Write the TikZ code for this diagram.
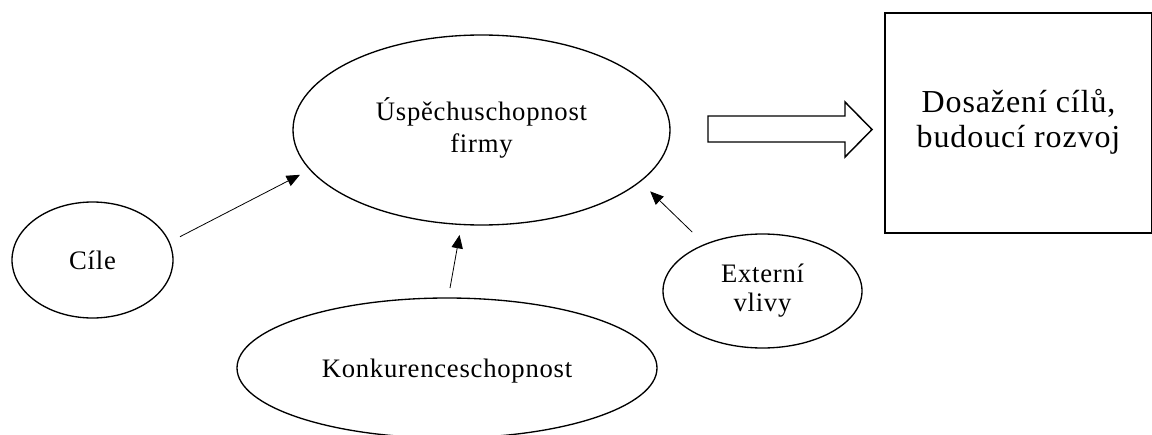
\documentclass[tikz,border=0pt]{standalone}
\usepackage{fontspec}
\setmainfont{Liberation Serif}[LetterSpace=2.8]
\usetikzlibrary{shapes.geometric,arrows.meta}
\tikzset{
  oval/.style={ellipse, draw, line width=1pt, inner sep=0pt, outer sep=0pt, align=center},
  smalltext/.style={font=\fontsize{20}{24}\selectfont},
  bigtext/.style={font=\fontsize{24}{27}\selectfont},
  box/.style={rectangle, draw, line width=1pt, inner sep=0pt, outer sep=0pt, align=center},
  arr/.style={line width=0.6pt, -{Triangle[length=10pt,width=8.5pt]}},
  blockarrow/.style={draw, line width=1.1pt, fill=white, line join=miter}
}
\begin{document}
\begin{tikzpicture}[x=0.75pt,y=-0.75pt]
\useasboundingbox (0,0) rectangle (1152,435);
\node[oval, smalltext, minimum width=282.75pt, minimum height=142.5pt] (top) at (481.5,130) {\raisebox{-1.5pt}{\begin{tabular}{@{}c@{}}Úspěchuschopnost\\firmy\end{tabular}}};
\node[oval, smalltext, minimum width=120.75pt, minimum height=87pt] (cile) at (92.5,260) {\raisebox{-2pt}{Cíle}};
\node[oval, smalltext, minimum width=315pt, minimum height=105pt] (konk) at (447,368) {\raisebox{0pt}[\height][0pt]{Konkurenceschopnost}};
\node[oval, font=\fontsize{20}{21.75}\selectfont, minimum width=149.25pt, minimum height=85.5pt] (ext) at (762.5,291) {\raisebox{-2.5pt}{\begin{tabular}{@{}c@{}}Externí\\vlivy\end{tabular}}};
\node[box, bigtext, minimum width=200.25pt, minimum height=165pt] (goal) at (1018.5,123) {\raisebox{4pt}{\begin{tabular}{@{}c@{}}Dosažení cílů,\\[-0.5pt]budoucí rozvoj\end{tabular}}};

\draw[arr, shorten <=9.1pt, shorten >=8.6pt] (cile.13) -- (top.193.9);
\draw[arr, shorten <=7.6pt, shorten >=8pt] (konk.89.1) -- (top.258.3);
\draw[arr, shorten <=13.3pt, shorten >=10.7pt] (ext.141.6) -- (top.342.8);

\draw[blockarrow] (708,116) -- (845,116) -- (845,102) -- (872,129.5) -- (845,157) -- (845,142) -- (708,142) -- cycle;
\end{tikzpicture}
\end{document}
